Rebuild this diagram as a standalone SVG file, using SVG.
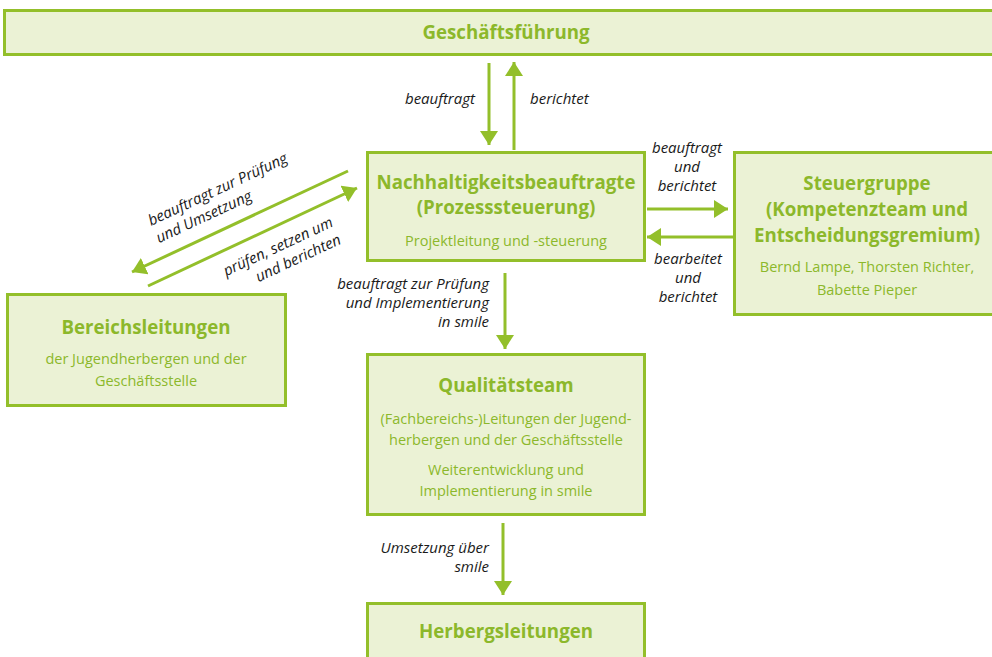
<svg xmlns="http://www.w3.org/2000/svg" width="992" height="657" viewBox="0 0 992 657">
<defs>
<style>
.box{fill:#ebf2d5;stroke:#93bf2a;stroke-width:3}
.t{font-family:"Open Sans","Noto Sans",sans-serif;fill:#8cb82b;text-anchor:middle}
.h{font-weight:bold;font-size:18.7px}
.s{font-size:14.5px}
.c{stroke:#93bf2a;stroke-width:3;fill:none}
.l{font-family:"Open Sans","Noto Sans",sans-serif;font-style:italic;font-size:15px;fill:#1a1a1a}
</style>
<marker id="ah" markerUnits="userSpaceOnUse" markerWidth="20" markerHeight="20" refX="14" refY="9" orient="auto">
<path d="M0,0 L14,9 L0,18 Z" fill="#93bf2a"/>
</marker>
</defs>
<rect width="992" height="657" fill="#ffffff"/>
<g id="connectors">
<line class="c" x1="489" y1="63" x2="489" y2="145" marker-end="url(#ah)"/>
<line class="c" x1="514" y1="150" x2="514" y2="62" marker-end="url(#ah)"/>
<line class="c" x1="647" y1="209" x2="728" y2="209" marker-end="url(#ah)"/>
<line class="c" x1="733" y1="237" x2="647" y2="237" marker-end="url(#ah)"/>
<line class="c" x1="348" y1="171" x2="132" y2="272" marker-end="url(#ah)"/>
<line class="c" x1="148" y1="286" x2="357" y2="188" marker-end="url(#ah)"/>
<line class="c" x1="505" y1="273" x2="505" y2="349" marker-end="url(#ah)"/>
<line class="c" x1="503" y1="523" x2="503" y2="595" marker-end="url(#ah)"/>
<text class="l" x="475" y="104" text-anchor="end">beauftragt</text>
<text class="l" x="530" y="104">berichtet</text>
<text class="l" x="687" y="153" text-anchor="middle">beauftragt</text>
<text class="l" x="687" y="172" text-anchor="middle">und</text>
<text class="l" x="687" y="191" text-anchor="middle">berichtet</text>
<text class="l" x="688" y="264" text-anchor="middle">bearbeitet</text>
<text class="l" x="688" y="283" text-anchor="middle">und</text>
<text class="l" x="688" y="302" text-anchor="middle">berichtet</text>
<g transform="translate(151,226) rotate(-25)">
<text class="l" x="0" y="0">beauftragt zur Prüfung</text>
<text class="l" x="0" y="19">und Umsetzung</text>
</g>
<g transform="translate(334,226) rotate(-25)">
<text class="l" x="0" y="0" text-anchor="end">prüfen, setzen um</text>
<text class="l" x="0" y="19" text-anchor="end">und berichten</text>
</g>
<text class="l" x="489" y="289" text-anchor="end">beauftragt zur Prüfung</text>
<text class="l" x="489" y="308" text-anchor="end">und Implementierung</text>
<text class="l" x="489" y="327" text-anchor="end">in smile</text>
<text class="l" x="489" y="553" text-anchor="end">Umsetzung über</text>
<text class="l" x="489" y="572" text-anchor="end">smile</text>
</g>
<g id="geschaeftsfuehrung">
<rect class="box" x="4.5" y="10.5" width="995" height="44"/>
<text class="t h" x="506" y="39">Geschäftsführung</text>
</g>
<g id="nachhaltigkeit">
<rect class="box" x="367.5" y="152.5" width="277" height="108"/>
<text class="t h" x="506" y="189">Nachhaltigkeitsbeauftragte</text>
<text class="t h" x="506" y="214">(Prozesssteuerung)</text>
<text class="t s" x="506" y="246">Projektleitung und -steuerung</text>
</g>
<g id="steuergruppe">
<rect class="box" x="734.5" y="152.5" width="265" height="162"/>
<text class="t h" x="867" y="190">Steuergruppe</text>
<text class="t h" x="867" y="216">(Kompetenzteam und</text>
<text class="t h" x="867" y="242">Entscheidungsgremium)</text>
<text class="t s" x="867" y="272">Bernd Lampe, Thorsten Richter,</text>
<text class="t s" x="867" y="295">Babette Pieper</text>
</g>
<g id="bereichsleitungen">
<rect class="box" x="7.5" y="294.5" width="278" height="111"/>
<text class="t h" x="146" y="334">Bereichsleitungen</text>
<text class="t s" x="146" y="364">der Jugendherbergen und der</text>
<text class="t s" x="146" y="386">Geschäftsstelle</text>
</g>
<g id="qualitaetsteam">
<rect class="box" x="367.5" y="354.5" width="277" height="160"/>
<text class="t h" x="506" y="392">Qualitätsteam</text>
<text class="t s" x="506" y="424">(Fachbereichs-)Leitungen der Jugend-</text>
<text class="t s" x="506" y="445">herbergen und der Geschäftsstelle</text>
<text class="t s" x="506" y="475">Weiterentwicklung und</text>
<text class="t s" x="506" y="496">Implementierung in smile</text>
</g>
<g id="herbergsleitungen">
<rect class="box" x="367.5" y="603.5" width="277" height="80"/>
<text class="t h" x="506" y="638">Herbergsleitungen</text>
</g>
</svg>
